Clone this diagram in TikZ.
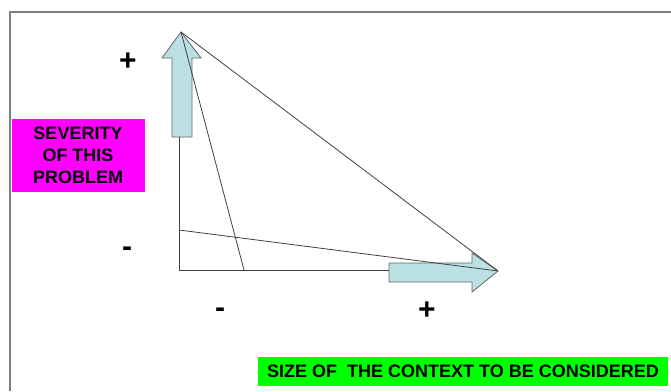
\documentclass[tikz,border=0pt]{standalone}
\usepackage{fontspec}
\setmainfont{Liberation Sans}
\usepackage{tikz}
\usetikzlibrary{calc}
\definecolor{arrowfill}{RGB}{187,224,228}
\definecolor{boxmagenta}{RGB}{255,0,255}
\definecolor{boxgreen}{RGB}{0,255,0}
\tikzset{
  thinline/.style={draw=black!75, line width=0.8pt},
  fatarrow/.style={draw=black!60, line width=0.8pt, fill=arrowfill},
  sign/.style={font=\fontsize{30}{30}\selectfont\bfseries, inner sep=0pt},
  labelbox/.style={font=\fontsize{18}{22}\selectfont\bfseries, inner sep=0pt, align=center}
}

\begin{document}
\begin{tikzpicture}[x=1pt, y=-1pt]
\useasboundingbox (0,0) rectangle (671,391);
\draw[gray, line width=2pt] (10,391) -- (10,12) -- (671,12);
\coordinate (top) at (181,32);
\coordinate (right) at (498,271);
\coordinate (origin) at (179,270);
\coordinate (ymid) at (179,230);
\coordinate (xmid) at (244,270);
\draw[fatarrow] (top) -- (201,58) -- (192,58) -- (192,137) -- (172,137) -- (172,58) -- (162,58) -- cycle;
\draw[fatarrow] (right) -- (472,292) -- (472,282) -- (389,282) -- (389,263) -- (472,263) -- (472,253) -- cycle;
\draw[thinline] (179,137) -- (origin) -- (389,270);
\draw[thinline] (top) -- (right);
\draw[thinline] (top) -- (xmid);
\draw[thinline] (ymid) -- (right);
\node[sign] (yplus) at (128,62) {+};
\node[sign] (yminus) at (127,252) {-};
\node[sign] (xminus) at (220,313) {-};
\node[sign] (xplus) at (427,311) {+};
\node[labelbox, fill=boxmagenta, minimum width=133pt, minimum height=73pt] (severity) at (78,155) {SEVERITY\\OF THIS\\PROBLEM};
\node[labelbox, fill=boxgreen, minimum width=410pt, minimum height=29pt] (context) at (463,371) {SIZE OF\ \ THE CONTEXT TO BE CONSIDERED};
\end{tikzpicture}
\end{document}
